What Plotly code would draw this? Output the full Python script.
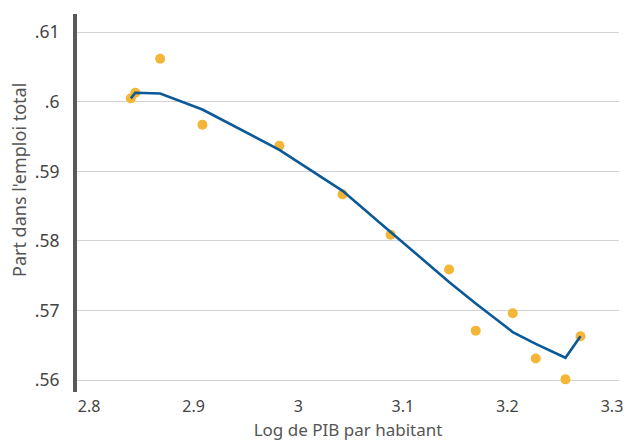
import plotly.graph_objects as go

# Data
log_gdp = [2.840, 2.8443, 2.868, 2.9084, 2.982, 3.0424, 3.0883, 3.1442, 3.1697, 3.2051, 3.2271, 3.2555, 3.2699]
share = [0.6005, 0.6013, 0.6062, 0.5967, 0.5937, 0.5867, 0.5809, 0.5759, 0.5671, 0.5696, 0.5631, 0.5601, 0.5663]
fitted = [0.6005, 0.6013, 0.6012, 0.5989, 0.5931, 0.5872, 0.5813, 0.5741, 0.5710, 0.5669, 0.5652, 0.5632, 0.5663]

y_ticks = [0.56, 0.57, 0.58, 0.59, 0.60, 0.61]
y_ticklabels = [".56", ".57", ".58", ".59", ".6", ".61"]
x_ticks = [2.8, 2.9, 3.0, 3.1, 3.2, 3.3]
x_ticklabels = ["2.8", "2.9", "3", "3.1", "3.2", "3.3"]

FONT = "Noto Sans"

PL, PR, PT, PB = 77, 619, 14, 392  # plot area in window pixels
W, H = 626, 441

fig = go.Figure()
fig.add_trace(go.Scatter(
    x=log_gdp, y=share, mode="markers",
    marker=dict(color="#f4b637", size=10, line=dict(width=0)),
    showlegend=False, hoverinfo="x+y"))
fig.add_trace(go.Scatter(
    x=log_gdp, y=fitted, mode="lines",
    line=dict(color="#0b5a97", width=2.6),
    showlegend=False, hoverinfo="x+y"))

fig.update_layout(
    width=W, height=H,
    margin=dict(l=PL, r=W - PR, t=PT, b=H - PB, autoexpand=False),
    paper_bgcolor="white", plot_bgcolor="white",
    font=dict(family=FONT, color="#444444", size=17),
    xaxis=dict(
        range=[2.7885, 3.3067], tickvals=x_ticks, ticktext=x_ticklabels,
        showgrid=False, zeroline=False, showline=False, ticks="",
        ticklabelstandoff=3, automargin=False,
        tickfont=dict(size=16, color="#444444"),
        title=dict(text="Log de PIB par habitant", font=dict(size=17, color="#555555"), standoff=8),
    ),
    yaxis=dict(
        range=[0.55828, 0.61263], tickvals=y_ticks, ticktext=y_ticklabels,
        showgrid=True, gridcolor="#d3d3d3", gridwidth=1, zeroline=False,
        showline=True, linecolor="#58595b", linewidth=4, ticks="",
        ticklabelstandoff=10, automargin=False,
        tickfont=dict(size=17.5, color="#444444"),
    ),
    annotations=[dict(
        text="Part dans l'emploi total", textangle=-90,
        xref="paper", yref="paper",
        x=(19 - PL) / (PR - PL), y=(PB - 180) / (PB - PT),
        xanchor="center", yanchor="middle", showarrow=False,
        font=dict(size=18, color="#555555", family=FONT))],
)

fig.write_html(
    "out.html",
    config={"displayModeBar": False},
    post_script=(
        "document.documentElement.style.margin='0';"
        "document.documentElement.style.overflow='hidden';"
        "document.body.style.margin='0';"
        "document.body.style.overflow='hidden';"
    ),
)
